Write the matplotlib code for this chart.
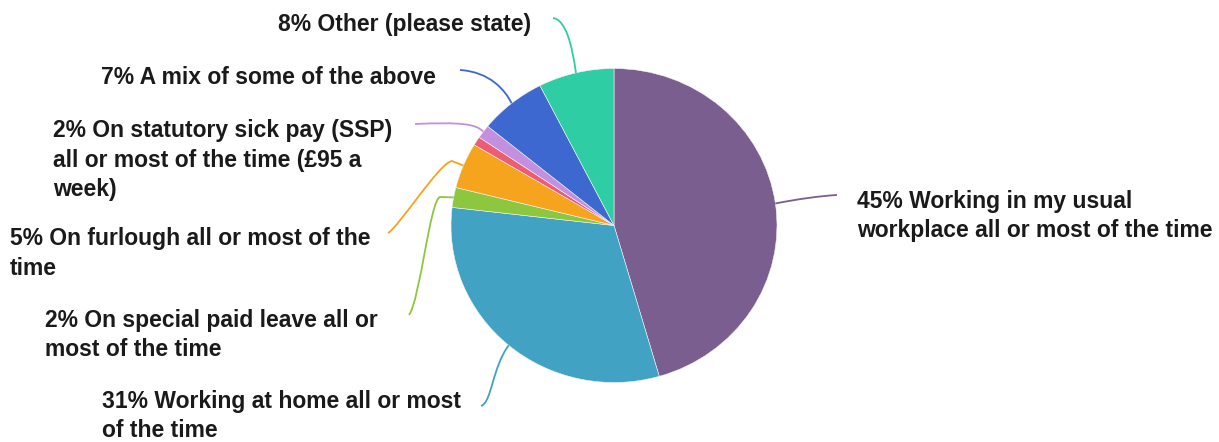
import numpy as np
import matplotlib
matplotlib.use("Agg")
import matplotlib.pyplot as plt
from matplotlib.path import Path
from matplotlib.patches import PathPatch

# ---- data ----
categories = [
    "Working in my usual workplace all or most of the time",
    "Working at home all or most of the time",
    "On special paid leave all or most of the time",
    "On furlough all or most of the time",
    "Unlabelled",
    "On statutory sick pay (SSP) all or most of the time (£95 a week)",
    "A mix of some of the above",
    "Other (please state)",
]
values = [45.5, 31.3, 2.05, 4.7, 0.9, 1.4, 6.6, 7.5]
labels = [
    "45% Working in my usual\nworkplace all or most of the time",
    "31% Working at home all or most\nof the time",
    "2% On special paid leave all or\nmost of the time",
    "5% On furlough all or most of the\ntime",
    None,
    "2% On statutory sick pay (SSP)\nall or most of the time (£95 a\nweek)",
    "7% A mix of some of the above",
    "8% Other (please state)",
]
colors = ["#7A5E8F", "#41A2C4", "#8DC63F", "#F6A31E", "#EE5C72",
          "#C48FDF", "#3C68CF", "#2FCDA3"]

W, H = 1219, 442
fig = plt.figure(figsize=(W / 100, H / 100), dpi=100)

# pie axes (slightly wider than tall, as in the reference)
cx, cy, rx, ry = 614, 225.5, 163, 157
pax = fig.add_axes([(cx - rx) / W, (H - cy - ry) / H, 2 * rx / W, 2 * ry / H])
wedges, _ = pax.pie(values, colors=colors, startangle=90, counterclock=False,
                    radius=1, wedgeprops=dict(linewidth=0.4, edgecolor="#f4f4f4"))
pax.set_aspect("auto")
pax.set_xlim(-1, 1)
pax.set_ylim(-1, 1)
pax.axis("off")

# overlay axes in pixel coordinates for labels and leaders
ox = fig.add_axes([0, 0, 1, 1], facecolor="none")
ox.set_xlim(0, W)
ox.set_ylim(H, 0)
ox.axis("off")

# text block anchors (left x, vertical centre) and leader geometry (layout)
text_pos = [(857, 216), (102, 416), (45, 335), (10, 253.5), None,
            (53, 160), (101, 77), (278, 25)]
leaders = [
    [(837, 195), (820, 196), (798, 199)],
    [(481, 406), (492, 402), (492, 368)],
    [(409, 315), (420, 300), (430, 200), (440, 197)],
    [(388, 233), (398, 228), (440, 162), (452, 161)],
    None,
    [(415, 124), (462, 122), (476, 124)],
    [(460, 70), (490, 72), (505, 90)],
    [(553, 18), (566, 20), (572, 45)],
]

fig.canvas.draw()
to_pix = pax.transData + ox.transData.inverted()

for w, lab, tp, ld, col in zip(wedges, labels, text_pos, leaders, colors):
    if lab is None:
        continue
    mid = np.deg2rad((w.theta1 + w.theta2) / 2)
    ax_pt, ay_pt = to_pix.transform((np.cos(mid), np.sin(mid)))
    if len(ld) == 3:
        verts = [ld[0], ld[1], ld[2], (ax_pt, ay_pt)]
        codes = [Path.MOVETO, Path.CURVE4, Path.CURVE4, Path.CURVE4]
    else:
        verts = [ld[0], ld[1], ld[2], ld[3], (ax_pt, ay_pt)]
        codes = [Path.MOVETO, Path.CURVE4, Path.CURVE4, Path.CURVE4, Path.LINETO]
    ox.add_patch(PathPatch(Path(verts, codes), facecolor="none", edgecolor=col,
                           linewidth=1.3))
    ox.text(tp[0], tp[1], lab, ha="left", va="center", fontsize=16.5,
            fontweight="bold", family="Liberation Sans", color="#1a1a1a",
            linespacing=1.36)

fig.savefig("out.png", dpi=100)
